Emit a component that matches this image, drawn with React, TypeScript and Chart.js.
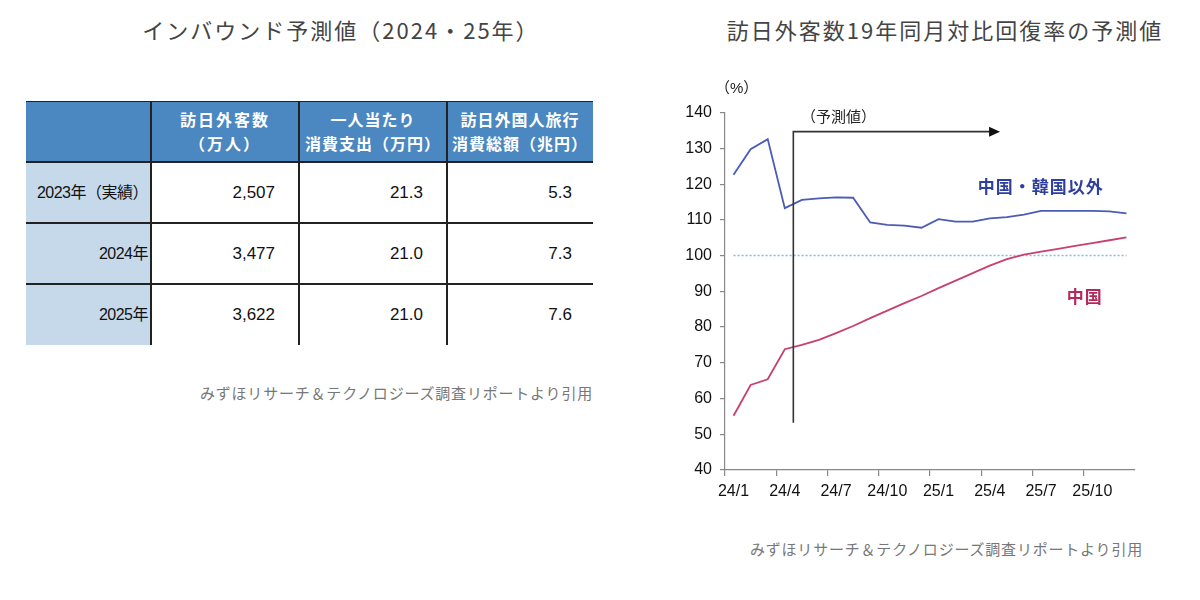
import React, { useEffect, useRef } from "react";
import { Chart, registerables } from "chart.js";

Chart.register(...registerables);

// ---------- data ----------
const months: string[] = [
  "24/1", "24/2", "24/3", "24/4", "24/5", "24/6", "24/7", "24/8", "24/9", "24/10", "24/11", "24/12",
  "25/1", "25/2", "25/3", "25/4", "25/5", "25/6", "25/7", "25/8", "25/9", "25/10", "25/11", "25/12",
];
const otherThanChinaKorea: number[] = [
  122.6, 129.8, 132.6, 113.3, 115.6, 116.0, 116.3, 116.2, 109.3, 108.6, 108.4, 107.8,
  110.2, 109.5, 109.5, 110.4, 110.8, 111.5, 112.5, 112.5, 112.5, 112.5, 112.4, 111.8,
];
const china: number[] = [
  55.2, 63.8, 65.4, 73.8, 75.0, 76.4, 78.3, 80.3, 82.5, 84.6, 86.7, 88.7,
  90.9, 93.0, 95.1, 97.2, 99.0, 100.3, 101.1, 101.9, 102.7, 103.5, 104.3, 105.1,
];
const baseline: number[] = months.map(() => 100);
const yTicks = { min: 40, max: 140, step: 10 };

const tableColumns: string[][] = [
  ["訪日外客数", "（万人）"],
  ["一人当たり", "消費支出（万円）"],
  ["訪日外国人旅行", "消費総額（兆円）"],
];
const tableRowLabels: string[] = ["2023年（実績）", "2024年", "2025年"];
const visitors: string[] = ["2,507", "3,477", "3,622"];
const spendPerPerson: string[] = ["21.3", "21.0", "21.0"];
const totalSpend: string[] = ["5.3", "7.3", "7.6"];

const FONT = '"Liberation Sans", Arial, "Noto Sans CJK JP", sans-serif';
const JFONT = '"Noto Sans CJK JP", "Liberation Sans", sans-serif';

const annotationPlugin = {
  id: "annot",
  afterDatasetsDraw(chart: any) {
    const { ctx, scales } = chart;
    const x = scales.x;
    const y = scales.y;
    const px = (i: number) => x.getPixelForValue(i);
    const py = (v: number) => y.getPixelForValue(v);
    ctx.save();
    // forecast marker
    ctx.strokeStyle = "#333";
    ctx.lineWidth = 1.6;
    const x0 = px(3.5);
    const yTop = py(134.7);
    const yBot = py(53.2);
    const xEnd = px(15.6);
    ctx.beginPath();
    ctx.moveTo(x0, yBot);
    ctx.lineTo(x0, yTop);
    ctx.lineTo(xEnd - 8, yTop);
    ctx.stroke();
    ctx.fillStyle = "#111";
    ctx.beginPath();
    ctx.moveTo(xEnd, yTop);
    ctx.lineTo(xEnd - 11, yTop - 5);
    ctx.lineTo(xEnd - 11, yTop + 5);
    ctx.closePath();
    ctx.fill();

    ctx.textBaseline = "middle";
    ctx.textAlign = "left";
    ctx.fillStyle = "#222";
    ctx.font = `15px ${JFONT}`;
    ctx.fillText("（予測値）", px(3.95), py(138.9));

    ctx.font = `15px ${FONT}`;
    ctx.fillText("（%）", chart.chartArea.left - 10, py(140) - 24);

    ctx.font = `bold 17px ${JFONT}`;
    (ctx as any).letterSpacing = "1px";
    ctx.fillStyle = "#2f3f9c";
    ctx.fillText("中国・韓国以外", px(14.3), py(119.3));
    ctx.fillStyle = "#b3295a";
    ctx.fillText("中国", px(19.5), py(88.5));
    ctx.restore();
  },
};

function LineChart() {
  const ref = useRef<HTMLCanvasElement>(null);
  useEffect(() => {
    if (!ref.current) return;
    const chart = new Chart(ref.current, {
      type: "line",
      data: {
        labels: months,
        datasets: [
          {
            label: "中国・韓国以外",
            data: otherThanChinaKorea,
            borderColor: "#4a5cb4",
            borderWidth: 1.8,
            pointRadius: 0,
            tension: 0,
          },
          {
            label: "中国",
            data: china,
            borderColor: "#c8406d",
            borderWidth: 1.8,
            pointRadius: 0,
            tension: 0,
          },
          {
            label: "100",
            data: baseline,
            borderColor: "#7fbbe2",
            borderWidth: 1.5,
            borderDash: [2, 2],
            pointRadius: 0,
          },
        ],
      },
      options: {
        animation: false,
        responsive: false,
        maintainAspectRatio: false,
        layout: { padding: { top: 52.7, right: 25, left: 0, bottom: 0 } },
        plugins: { legend: { display: false }, tooltip: { enabled: false } },
        scales: {
          x: {
            type: "category",
            offset: true,
            afterFit: (s: any) => {
              s.height = 50;
            },
            border: { color: "#888", width: 1.2 },
            grid: {
              offset: true,
              drawOnChartArea: false,
              drawTicks: true,
              tickLength: 6,
              lineWidth: 1.2,
              color: (c: any) => (c.index % 3 === 0 ? "#888" : "rgba(0,0,0,0)"),
            },
            ticks: {
              autoSkip: false,
              maxRotation: 0,
              minRotation: 0,
              padding: 6,
              color: "#111",
              font: { family: FONT, size: 16 },
              callback: (_v: any, i: number) => (i % 3 === 0 ? months[i] : ""),
            },
          },
          y: {
            min: yTicks.min,
            max: yTicks.max,
            afterFit: (s: any) => {
              s.width = 65;
            },
            border: { color: "#888", width: 1.2 },
            grid: {
              drawOnChartArea: false,
              drawTicks: true,
              tickLength: 5,
              lineWidth: 1.2,
              color: "#888",
            },
            ticks: {
              stepSize: yTicks.step,
              padding: 8,
              color: "#111",
              font: { family: FONT, size: 16 },
            },
          },
        },
      },
      plugins: [annotationPlugin],
    });
    return () => chart.destroy();
  }, []);
  return (
    <canvas
      ref={ref}
      width={500}
      height={460}
      style={{ position: "absolute", left: 660, top: 60, width: 500, height: 460 }}
    />
  );
}

const colLefts = [26, 151, 299, 447];
const colWidths = [125, 148, 148, 146];
const headerTop = 101;
const headerH = 61;
const rowH = 61;

function Table() {
  const cells: React.ReactNode[] = [];
  cells.push(
    <div
      key="hbg"
      style={{
        position: "absolute",
        left: 26,
        top: headerTop,
        width: 567,
        height: headerH,
        background: "#4b87c1",
        borderTop: "1.5px solid #222",
        boxSizing: "border-box",
      }}
    />
  );
  tableColumns.forEach((lines, c) => {
    cells.push(
      <div
        key={"h" + c}
        style={{
          position: "absolute",
          left: colLefts[c + 1],
          top: headerTop + 6,
          width: colWidths[c + 1],
          textAlign: "center",
          color: "#fff",
          fontFamily: JFONT,
          fontWeight: 700,
          fontSize: 16,
          lineHeight: "24px",
          letterSpacing: c === 0 ? 2 : 1,
          whiteSpace: "nowrap",
        }}
      >
        {lines.map((l, k) => (
          <div key={k}>{l}</div>
        ))}
      </div>
    );
  });
  cells.push(
    <div
      key="c0bg"
      style={{
        position: "absolute",
        left: 26,
        top: headerTop + headerH,
        width: 125,
        height: rowH * 3,
        background: "#c5d9ea",
      }}
    />
  );
  const values = [visitors, spendPerPerson, totalSpend];
  tableRowLabels.forEach((label, r) => {
    const top = headerTop + headerH + r * rowH;
    cells.push(
      <div
        key={"rl" + r}
        style={{
          position: "absolute",
          left: 26,
          top,
          width: 122,
          height: rowH,
          lineHeight: rowH + "px",
          textAlign: "right",
          fontFamily: FONT,
          fontSize: 16,
          color: "#111",
          whiteSpace: "nowrap",
          letterSpacing: -0.5,
        }}
      >
        {label}
      </div>
    );
    values.forEach((col, c) => {
      cells.push(
        <div
          key={"v" + r + "-" + c}
          style={{
            position: "absolute",
            left: colLefts[c + 1],
            top,
            width: colWidths[c + 1] - (c === 2 ? 21 : 24),
            height: rowH,
            lineHeight: rowH + "px",
            textAlign: "right",
            fontFamily: FONT,
            fontSize: 17,
            color: "#111",
          }}
        >
          {col[r]}
        </div>
      );
    });
    cells.push(
      <div
        key={"hl" + r}
        style={{
          position: "absolute",
          left: 26,
          top: top - 1,
          width: 567,
          height: 1.5,
          background: "#222",
        }}
      />
    );
  });
  [151, 299, 447].forEach((x, i) => {
    cells.push(
      <div
        key={"vl" + i}
        style={{
          position: "absolute",
          left: x - 1,
          top: headerTop,
          width: 1.5,
          height: 244,
          background: "#222",
        }}
      />
    );
  });
  return <>{cells}</>;
}

const titleStyle: React.CSSProperties = {
  position: "absolute",
  top: 13,
  width: 600,
  textAlign: "center",
  fontFamily: JFONT,
  fontSize: 22,
  letterSpacing: 2,
  color: "#444",
  whiteSpace: "nowrap",
};

const sourceStyle: React.CSSProperties = {
  position: "absolute",
  width: 500,
  textAlign: "right",
  fontFamily: JFONT,
  fontSize: 15,
  letterSpacing: 0.8,
  color: "#777",
  whiteSpace: "nowrap",
};

export default function App() {
  return (
    <div
      style={{
        position: "fixed",
        left: 0,
        top: 0,
        width: 1200,
        height: 600,
        background: "#fff",
        overflow: "hidden",
      }}
    >
      <div style={{ ...titleStyle, left: 41 }}>インバウンド予測値（2024・25年）</div>
      <div style={{ ...titleStyle, left: 645 }}>訪日外客数19年同月対比回復率の予測値</div>
      <Table />
      <div style={{ ...sourceStyle, left: 93, top: 382 }}>
        みずほリサーチ＆テクノロジーズ調査リポートより引用
      </div>
      <LineChart />
      <div style={{ ...sourceStyle, left: 643, top: 538 }}>
        みずほリサーチ＆テクノロジーズ調査リポートより引用
      </div>
    </div>
  );
}
